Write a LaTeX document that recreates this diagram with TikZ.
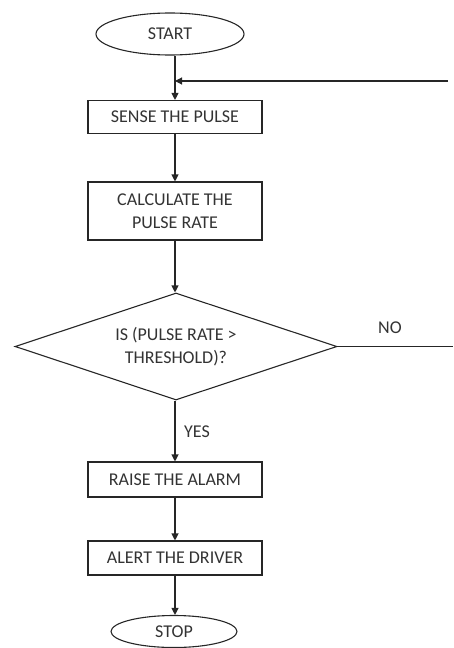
\documentclass[tikz,border=0pt]{standalone}
\usepackage{fontspec}
\setmainfont{Carlito}
\usetikzlibrary{shapes.geometric,arrows.meta}
\begin{document}
\begin{tikzpicture}[x=1pt,y=-1pt,
  every node/.style={font=\fontsize{18}{23.5}\selectfont, text=black!80},
  ln/.style={draw=black!85, line width=1.1pt},
  arr/.style={ln, -{Triangle[width=7pt,length=7pt]}},
  term/.style={ln, ellipse, inner sep=0pt},
  procbox/.style={ln, rectangle, minimum width=174pt, inner sep=0pt, align=center},
  decision/.style={ln, diamond, aspect=3, minimum width=322pt, minimum height=107pt, inner sep=0pt, align=center},
  lbl/.style={inner sep=0pt}]
\useasboundingbox (0,0) rectangle (453,648);
\node[term, minimum width=148pt, minimum height=42pt] (start) at (170,34) {START};
\node[procbox, minimum height=33pt] (sense) at (175,117) {SENSE THE PULSE};
\node[procbox, minimum height=58pt] (calc) at (175,211) {CALCULATE THE\\PULSE RATE};
\node[decision] (dec) at (176,346.5) {IS (PULSE RATE >\\THRESHOLD)?};
\node[procbox, minimum height=35pt] (raise) at (175,479.5) {RAISE THE ALARM};
\node[procbox, minimum height=34pt] (alert) at (175,558) {ALERT THE DRIVER};
\node[term, minimum width=126pt, minimum height=32pt] (stop) at (174,631.5) {STOP};
\coordinate (fb) at (448,81);
\coordinate (noend) at (453,346.5);
\draw[arr] (start.south -| sense.north) -- (sense.north);
\draw[arr] (fb) -- (fb -| sense.north);
\draw[arr] (sense.south) -- (calc.north);
\draw[arr] (calc.south) -- (calc.south |- dec.north);
\draw[ln] (dec.east) -- (noend);
\node[lbl] (no) at (390,328) {NO};
\draw[arr] (dec.south -| raise.north) -- (raise.north);
\node[lbl, anchor=west] (yes) at (184,432) {YES};
\draw[arr] (raise.south) -- (alert.north);
\draw[arr] (alert.south) -- (alert.south |- stop.north);
\end{tikzpicture}
\end{document}
